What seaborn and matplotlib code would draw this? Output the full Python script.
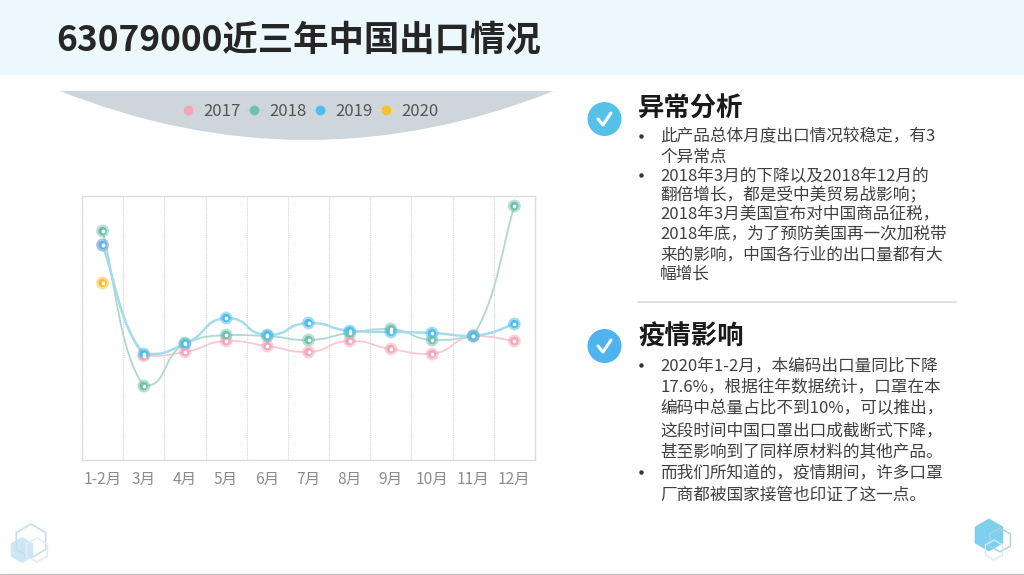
import matplotlib
matplotlib.use("Agg")
import matplotlib.pyplot as plt
import numpy as np
import pandas as pd
import seaborn as sns
from matplotlib.lines import Line2D
from matplotlib.patches import Circle, PathPatch, Polygon, Rectangle
from matplotlib.path import Path

months = ["1-2月", "3月", "4月", "5月", "6月", "7月", "8月", "9月", "10月", "11月", "12月"]
v2017 = [107.5, 52, 54, 59.5, 57, 54, 59.5, 55.5, 53, 62, 59.5]
v2018 = [114.5, 37, 58.5, 62.5, 62, 60, 63.5, 65.5, 60, 62, 127]
v2019 = [107.5, 53, 58, 71, 62.5, 68.5, 64.5, 64, 63.5, 62, 68]
v2020 = [88.5]
years = ["2017", "2018", "2019", "2020"]

# marker color, line color
COLORS = {
    "2017": ("#f4a6b8", "#f7c9d2"),
    "2018": ("#6fc0ac", "#aed9d0"),
    "2019": ("#4fbdea", "#a5dcea"),
    "2020": ("#f7c02b", "#f9dc8c"),
}
LW = {"2017": 1.3, "2018": 1.3, "2019": 1.8, "2020": 1.3}
GREY = "#8c8c8c"
DARK = "#262626"

sns.set_theme(style="white")
plt.rcParams["font.family"] = ["Noto Sans CJK SC", "DejaVu Sans"]

rows = []
for year, vals in zip(years, [v2017, v2018, v2019, v2020]):
    for m, v in zip(months, vals):
        rows.append({"month": m, "year": year, "value": v})
df = pd.DataFrame(rows)

fig = plt.figure(figsize=(10.24, 5.75), dpi=100, facecolor="white")

# page layer in pixel coordinates
bg = fig.add_axes([0, 0, 1, 1])
bg.set_xlim(0, 1024)
bg.set_ylim(575, 0)
bg.axis("off")
bg.add_patch(Rectangle((0, 0), 1024, 75, fc="#ecf8fc", ec="none"))
bg.plot([0, 1024], [574, 574], color="#c4c4c4", lw=1)
bg.plot([638, 956], [302, 302], color="#d9d9d9", lw=1.2)
dome = Path([(60, 91), (307, 189), (554, 91), (60, 91)],
            [Path.MOVETO, Path.CURVE3, Path.CURVE3, Path.CLOSEPOLY])
bg.add_patch(PathPatch(dome, fc="#ced6dc", ec="none"))


def hexagon(cx, cy, r, **kw):
    ang = np.radians(np.arange(6) * 60 + 30)
    bg.add_patch(Polygon(np.c_[cx + r * np.cos(ang), cy + r * np.sin(ang)], closed=True, **kw))


hexagon(22, 550, 13, fc="#cfe6f7", ec="none")
hexagon(31, 541, 17, fc="none", ec="#bfe3ea", lw=1.2)
hexagon(37, 550, 12, fc="none", ec="#e3eef2", lw=1.2)
hexagon(989, 535, 16.5, fc="#7fd0ee", ec="none")
hexagon(1000, 540, 12, fc="none", ec="#a9cfe0", lw=1)
hexagon(994, 550, 10, fc="none", ec="#dbe8ee", lw=1)

for cy, col in [(119, "#55c1e8"), (346, "#4fb3f0")]:
    bg.add_patch(Circle((604.5, cy), 17, fc=col, ec="none"))
    bg.plot([598, 603, 611], [cy, cy + 6, cy - 6], color="white", lw=2.2,
            solid_capstyle="round", solid_joinstyle="round")

bg.text(56, 40, "63079000近三年中国出口情况", fontsize=25.5, fontweight="bold",
        color=DARK, va="center", ha="left")
bg.text(638, 109, "异常分析", fontsize=19, fontweight="bold", color="#1a1a1a", va="center")
bg.text(638, 337, "疫情影响", fontsize=19, fontweight="bold", color="#1a1a1a", va="center")

block1 = [
    (137, "此产品总体月度出口情况较稳定，有3", True),
    (157, "个异常点", False),
    (176, "2018年3月的下降以及2018年12月的", True),
    (196, "翻倍增长，都是受中美贸易战影响；", False),
    (215, "2018年3月美国宣布对中国商品征税，", False),
    (235, "2018年底，为了预防美国再一次加税带", False),
    (255, "来的影响，中国各行业的出口量都有大", False),
    (274, "幅增长", False),
]
block2 = [
    (366, "2020年1-2月，本编码出口量同比下降", True),
    (388, "17.6%，根据往年数据统计，口罩在本", False),
    (409, "编码中总量占比不到10%，可以推出，", False),
    (431, "这段时间中国口罩出口成截断式下降，", False),
    (452, "甚至影响到了同样原材料的其他产品。", False),
    (473, "而我们所知道的，疫情期间，许多口罩", True),
    (495, "厂商都被国家接管也印证了这一点。", False),
]
for y, line, bullet in block1 + block2:
    bg.text(660, y, line, fontsize=12, color="#404040", va="center")
    if bullet:
        bg.plot([641], [y - 1], "o", ms=2.2, color="#333333")

# chart
ax = fig.add_axes([82 / 1024, 1 - 460 / 575, 453 / 1024, 264 / 575])
ax.set_facecolor("white")


def smooth_path(xs, ys, k=0.3):
    # bezier through the points, control points kept inside each segment's y range
    pts = np.c_[xs, ys]
    verts, codes = [pts[0]], [Path.MOVETO]
    n = len(pts)
    for i in range(n - 1):
        a = pts[max(i - 1, 0)]
        b = pts[min(i + 2, n - 1)]
        lo, hi = sorted([pts[i][1], pts[i + 1][1]])
        c1 = pts[i] + (pts[i + 1] - a) * k
        c2 = pts[i + 1] - (b - pts[i]) * k
        c1[1] = np.clip(c1[1], lo, hi)
        c2[1] = np.clip(c2[1], lo, hi)
        verts += [c1, c2, pts[i + 1]]
        codes += [Path.CURVE4] * 3
    return Path(verts, codes)


for year in years:
    sub = df[df.year == year]
    if len(sub) > 1:
        xs = [months.index(m) for m in sub.month]
        ax.add_patch(PathPatch(smooth_path(xs, sub.value.values), fc="none",
                               ec=COLORS[year][1], lw=LW[year], zorder=2))

# halo ring then the marker with its white centre
palette = {y: COLORS[y][0] for y in years}
sns.scatterplot(data=df, x="month", y="value", hue="year", palette=palette,
                s=85, alpha=0.5, linewidth=0, legend=False, ax=ax, zorder=3)
sns.scatterplot(data=df, x="month", y="value", hue="year", palette=palette,
                s=36, linewidth=0, legend=False, ax=ax, zorder=4)
ax.scatter(df.month, df.value, s=7, color="white", linewidth=0, zorder=5)

ax.set_xlim(-0.5, 10.5)
ax.set_ylim(0, 132)
ax.set_xlabel("")
ax.set_ylabel("")
ax.set_yticks([])
ax.set_xticks(np.arange(len(months)))
ax.set_xticklabels(months)
ax.tick_params(axis="x", length=0, pad=8, labelsize=11.2, labelcolor=GREY)
ax.set_xticks(np.arange(-0.5, 10.5), minor=True)
ax.tick_params(axis="x", which="minor", length=0)
ax.grid(False)
ax.grid(True, axis="x", which="minor", color="#cfd4d4", lw=0.8, ls=(0, (1, 1)))
for s in ax.spines.values():
    s.set_color("#dddddd")
    s.set_linewidth(1)

handles = [Line2D([], [], color=COLORS[y][1], lw=0.8, marker="o", ms=7, mfc=COLORS[y][0], mec="white",
                  mew=0) for y in years]
fig.legend(handles, years, loc="center", bbox_to_anchor=(309 / 1024, 1 - 111 / 575), ncol=4,
           frameon=False, fontsize=12, labelcolor="#555555", handlelength=1.0,
           handletextpad=0.42, columnspacing=0.3)

fig.savefig("out.png", dpi=100)
